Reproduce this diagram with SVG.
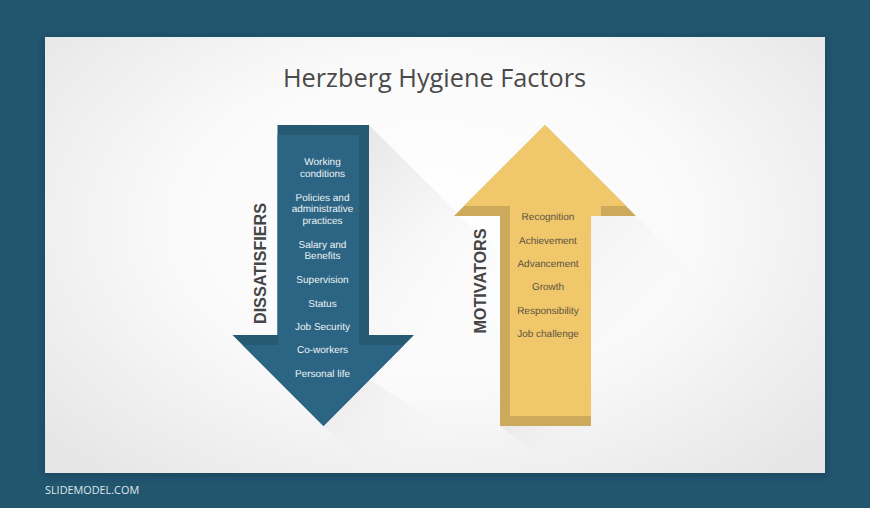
<svg xmlns="http://www.w3.org/2000/svg" width="870" height="508" viewBox="0 0 870 508">
<defs>
<radialGradient id="bg" gradientUnits="userSpaceOnUse" cx="435" cy="225" r="1" gradientTransform="translate(435 225) scale(510 330) translate(-435 -225)">
<stop offset="0" stop-color="#ffffff"/><stop offset="0.5" stop-color="#fafafa"/><stop offset="1" stop-color="#e6e6e6"/>
</radialGradient>
<linearGradient id="s1" gradientUnits="userSpaceOnUse" x1="369" y1="125" x2="530" y2="290">
<stop offset="0" stop-color="#e6e6e6"/><stop offset="1" stop-color="#f8f8f8" stop-opacity="0"/>
</linearGradient>
<linearGradient id="s2" gradientUnits="userSpaceOnUse" x1="335" y1="420" x2="400" y2="473">
<stop offset="0" stop-color="#efefef"/><stop offset="1" stop-color="#f2f2f2" stop-opacity="0"/>
</linearGradient>
<linearGradient id="s3" gradientUnits="userSpaceOnUse" x1="570" y1="150" x2="720" y2="300">
<stop offset="0" stop-color="#dedede"/><stop offset="1" stop-color="#f8f8f8" stop-opacity="0"/>
</linearGradient>
<linearGradient id="s4" gradientUnits="userSpaceOnUse" x1="510" y1="426" x2="570" y2="473">
<stop offset="0" stop-color="#ebebeb"/><stop offset="1" stop-color="#f2f2f2" stop-opacity="0"/>
</linearGradient>
<filter id="sh" x="-5%" y="-5%" width="110%" height="110%"><feDropShadow dx="0" dy="2" stdDeviation="4" flood-color="#0d2c3d" flood-opacity="0.5"/></filter>
</defs>
<style>
.b{font:10px "Liberation Sans",Arial,sans-serif;text-anchor:middle;text-rendering:geometricPrecision}
.w{fill:#eef3f6}
.k{fill:#5a5440}
.v{font:bold 16.200px "Liberation Sans",Arial,sans-serif;fill:#454545;text-anchor:middle}
</style>
<rect width="870" height="508" fill="#22566f"/>
<rect x="45" y="37" width="780" height="436" fill="url(#bg)" filter="url(#sh)"/>
<g id="shadows">
<polygon points="369,125 580,335 580,420 414,335 369,335" fill="url(#s1)"/>
<polygon points="323.500,426 370,380 470,445 470,473 380,473" fill="url(#s2)"/>
<polygon points="565,145 636,216 591,216 591,426 560,473 825,473 825,405" fill="url(#s3)" opacity="0.6"/>
<polygon points="500,426 591,426 591,473 560,473" fill="url(#s4)"/>
</g>
<text id="title" x="434.500" y="87" font-family="'Open Sans',sans-serif" font-size="25.300" fill="#4a4a4a" text-anchor="middle">Herzberg Hygiene Factors</text>
<g id="dissatisfiers">
<polygon points="277.500,125 369,125 369,335 414,335 323.500,426 232.500,335 277.500,335" fill="#265a73"/>
<polygon points="277.500,135 359,135 359,345 404,345 323.500,426 242.500,345 277.500,345" fill="#2b6583"/>
<rect x="267" y="335" width="10.500" height="10" fill="#265a73"/>
<text class="b w" x="322.500" y="165">Working</text>
<text class="b w" x="322.500" y="176.500">conditions</text>
<text class="b w" x="322.500" y="200.500">Policies and</text>
<text class="b w" x="322.500" y="212">administrative</text>
<text class="b w" x="322.500" y="223.500">practices</text>
<text class="b w" x="322.500" y="247.500">Salary and</text>
<text class="b w" x="322.500" y="259">Benefits</text>
<text class="b w" x="322.500" y="282.500">Supervision</text>
<text class="b w" x="322.500" y="306.500">Status</text>
<text class="b w" x="322.500" y="329.500">Job Security</text>
<text class="b w" x="322.500" y="353">Co-workers</text>
<text class="b w" x="322.500" y="376.500">Personal life</text>
<text class="v" transform="translate(265.500 263.500) rotate(-90)">DISSATISFIERS</text>
</g>
<g id="motivators">
<polygon points="545,125 636,216 591,216 591,426 500,426 500,216 454,216" fill="#cdaa5b"/>
<polygon points="545,125 626,206 601,206 601,216 591,216 591,416 510,416 510,206 464,206" fill="#f1c76c"/>
<text class="b k" x="548" y="219.500">Recognition</text>
<text class="b k" x="548" y="243.500">Achievement</text>
<text class="b k" x="548" y="266.500">Advancement</text>
<text class="b k" x="548" y="290">Growth</text>
<text class="b k" x="548" y="313.500">Responsibility</text>
<text class="b k" x="548" y="337">Job challenge</text>
<text class="v" transform="translate(485.500 281) rotate(-90)">MOTIVATORS</text>
</g>
<text id="brand" x="45" y="494" font-family="'Open Sans',sans-serif" font-size="10.850" fill="#dfe8ec">SLIDEMODEL.COM</text>
</svg>
